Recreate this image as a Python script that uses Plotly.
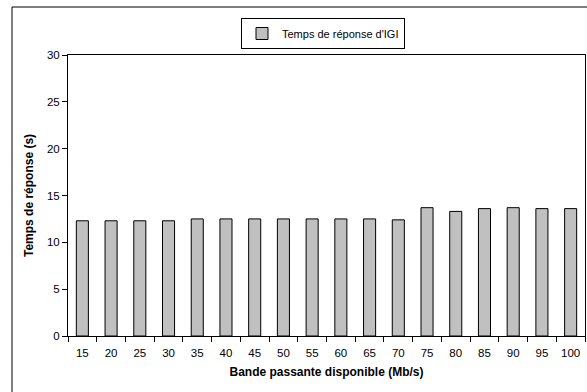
import plotly.graph_objects as go

categories = ["15", "20", "25", "30", "35", "40", "45", "50", "55", "60",
              "65", "70", "75", "80", "85", "90", "95", "100"]
temps_reponse = [12.3, 12.3, 12.3, 12.3, 12.5, 12.5, 12.5, 12.5, 12.5, 12.5,
                 12.5, 12.4, 13.7, 13.3, 13.6, 13.7, 13.6, 13.6]
y_ticks = [0, 5, 10, 15, 20, 25, 30]

W, H = 587, 392
L, R, T, B = 68, 2, 55, 56
pw, ph = W - L - R, H - T - B

fig = go.Figure()
fig.add_trace(go.Bar(
    x=categories, y=temps_reponse, name="Temps de réponse d'IGI",
    marker=dict(color="#c0c0c0", line=dict(color="black", width=1)),
))

fig.update_layout(
    width=W, height=H,
    margin=dict(l=L, r=R, t=T, b=B, autoexpand=False),
    paper_bgcolor="white", plot_bgcolor="white",
    font=dict(family="Liberation Sans, Arial, sans-serif", size=11, color="black"),
    bargap=0.58,
    showlegend=True,
    legend=dict(
        x=(323 - L) / pw, xanchor="center",
        y=(H - B - 18) / ph, yanchor="top",
        bordercolor="black", borderwidth=1,
        font=dict(size=11),
        itemwidth=30,
        tracegroupgap=0,
    ),
    xaxis=dict(
        type="category",
        showline=True, linecolor="black", linewidth=1, mirror=True,
        ticks="outside", ticklen=5, tickcolor="black", tickson="boundaries",
        ticklabelstandoff=6,
        showgrid=False,
        tickfont=dict(size=11.5),
        title=dict(text="<b>Bande passante disponible (Mb/s)</b>", standoff=9,
                   font=dict(size=12)),
    ),
    yaxis=dict(
        range=[0, 30], tickvals=y_ticks,
        showline=True, linecolor="black", linewidth=1, mirror=True,
        ticks="outside", ticklen=5, tickcolor="black",
        showgrid=False, zeroline=False,
        tickfont=dict(size=11.5),
        title=dict(text="<b>Temps de réponse (s)</b>", standoff=10,
                   font=dict(size=12)),
    ),
    shapes=[dict(
        type="rect", xref="paper", yref="paper",
        x0=(12 - L) / pw, x1=1.2,
        y0=-0.5, y1=(H - B - 7) / ph,
        line=dict(color="black", width=1), fillcolor="rgba(0,0,0,0)",
        layer="below",
    )],
)

fig.write_html(
    "out.html",
    config={"displayModeBar": False},
    post_script="document.body.style.margin='0';document.body.style.overflow='hidden';",
)
